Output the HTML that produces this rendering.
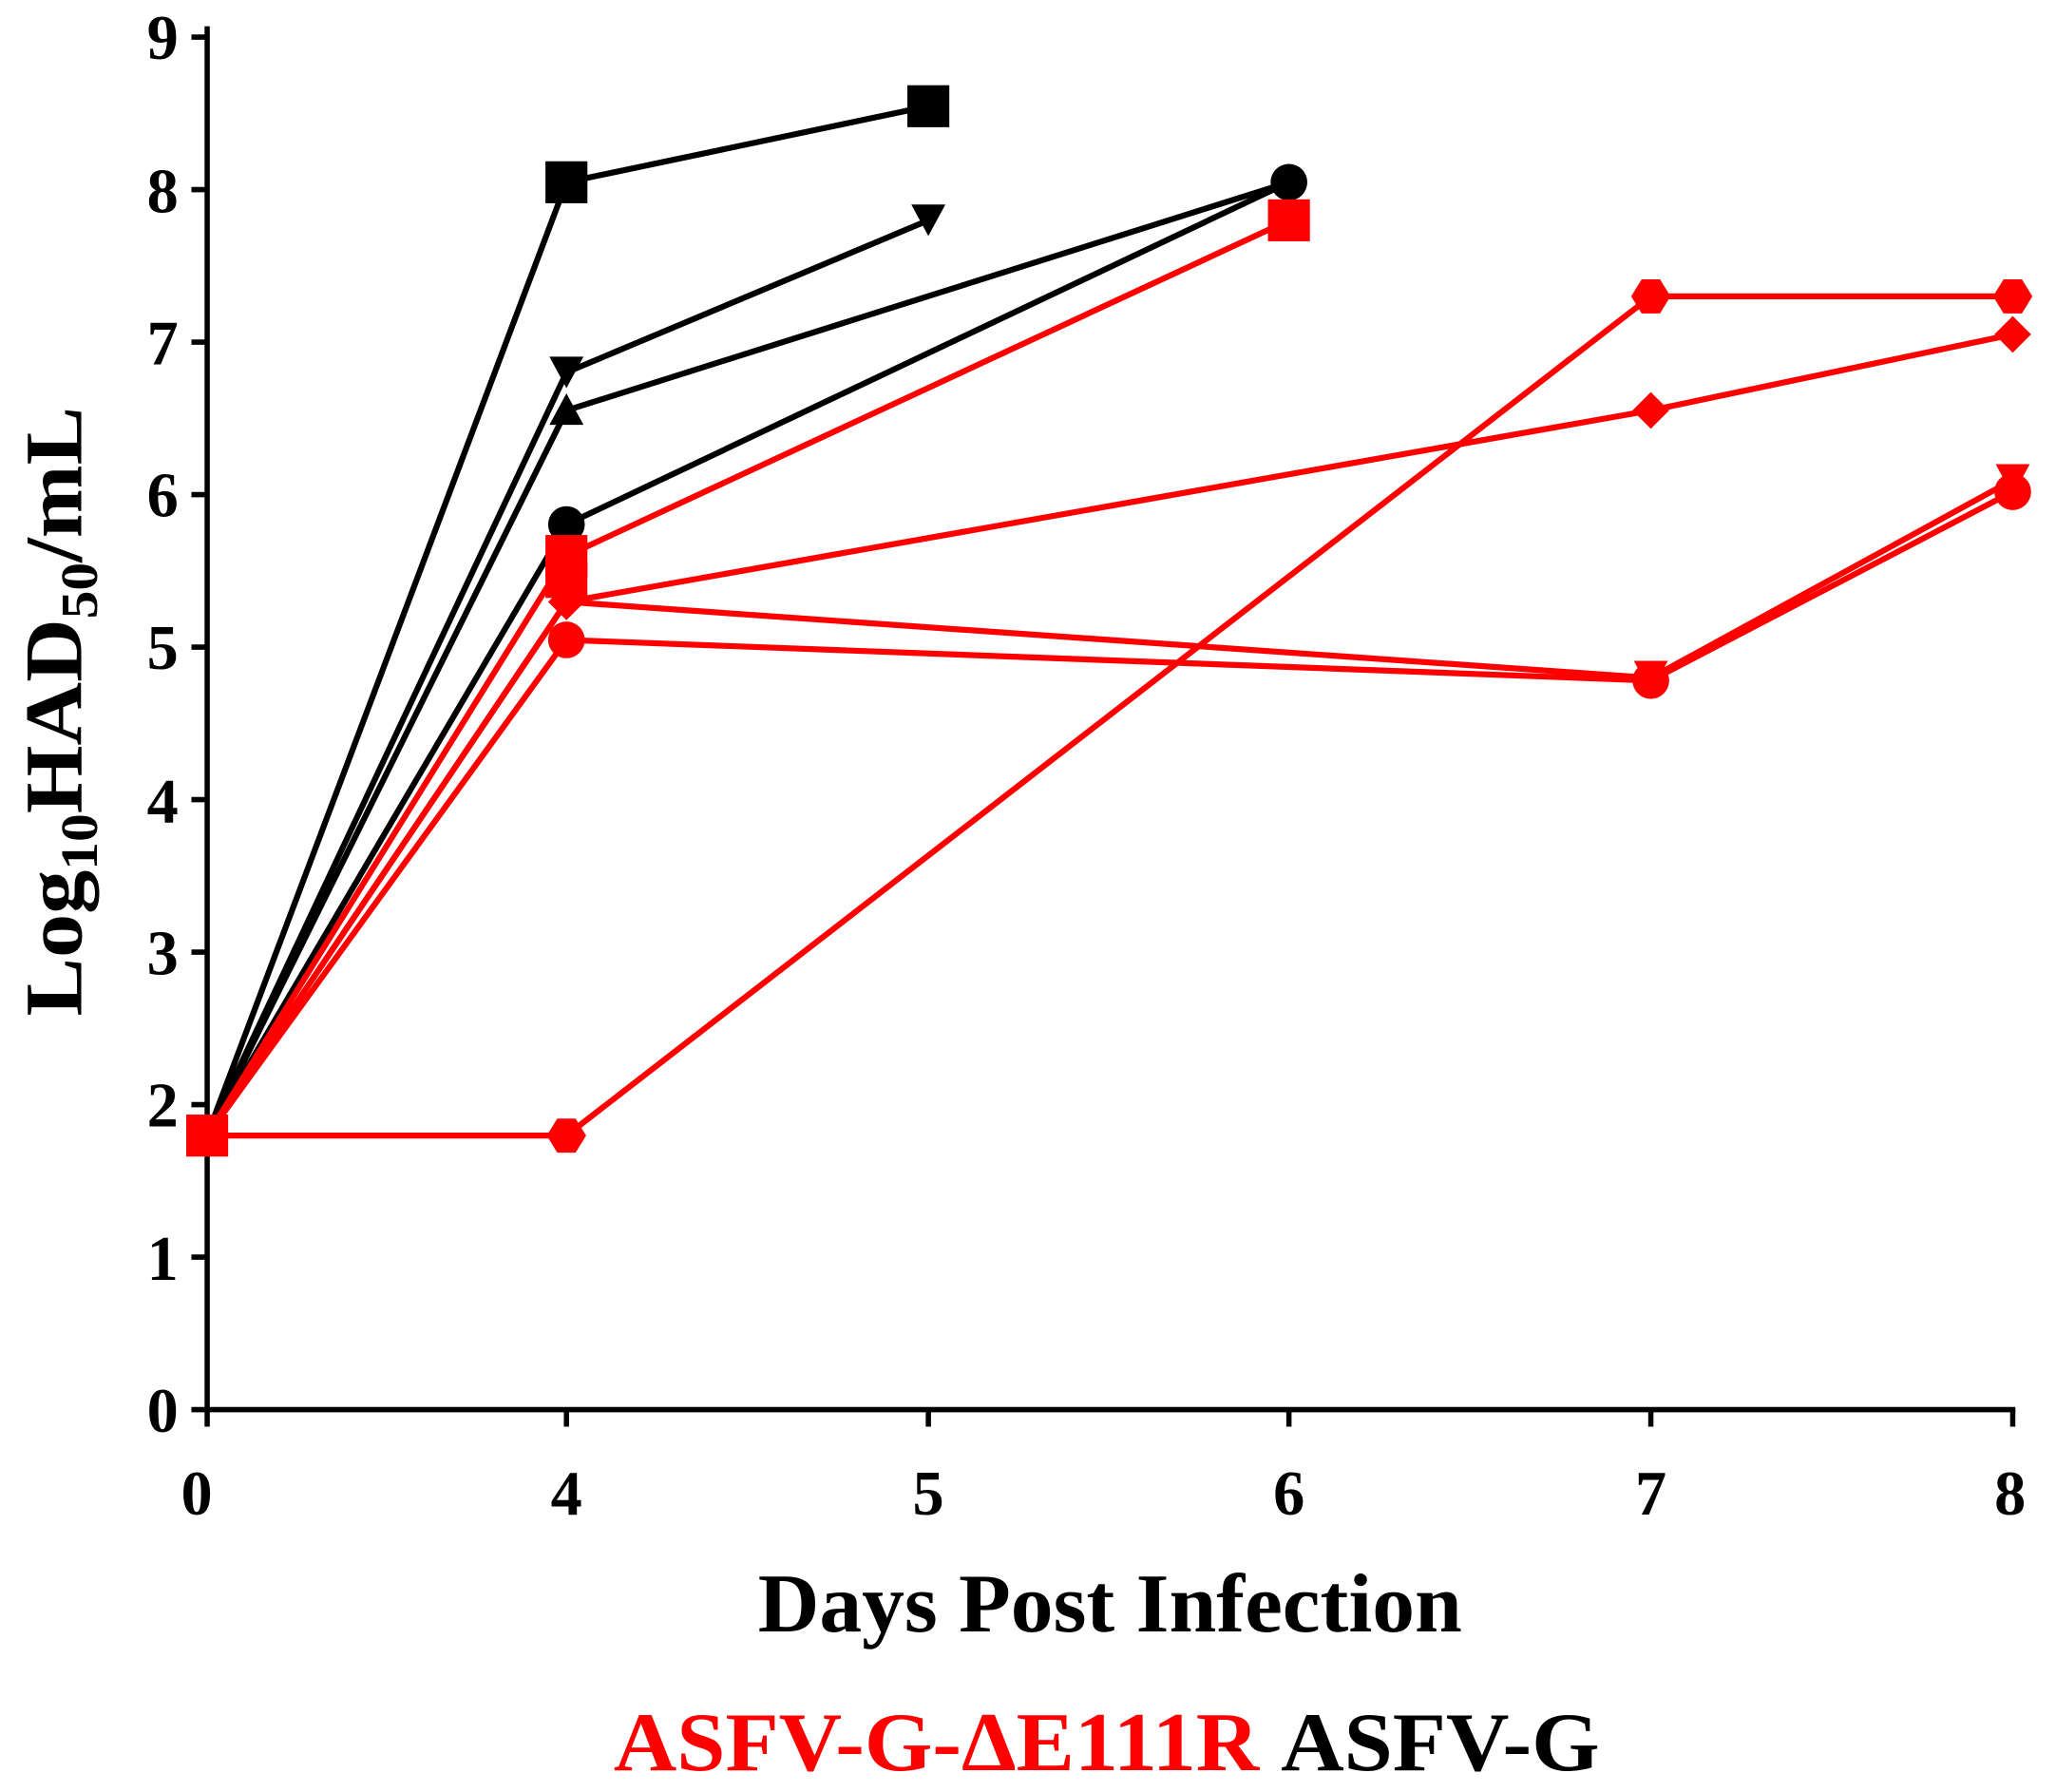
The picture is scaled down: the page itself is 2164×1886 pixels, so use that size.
<!DOCTYPE html>
<html><head><style>html,body{margin:0;padding:0;background:#fff}svg{display:block}</style></head>
<body>
<svg width="2164" height="1886" viewBox="0 0 1568 1366.6" preserveAspectRatio="none" xmlns="http://www.w3.org/2000/svg" font-family="Liberation Serif, serif" font-weight="bold">
<defs>
<path id="tri" d="M0,-14 L13,10 L-13,10Z"/>
<path id="tdn" d="M0,14 L13,-10 L-13,-10Z"/>
<path id="dia" d="M0,-14 L14,0 L0,14 L-14,0Z"/>
<path id="hex" d="M-7,-13 L7,-13 L15,0 L7,13 L-7,13 L-15,0Z"/>
</defs>
<g stroke="#000" stroke-width="4" fill="none">
<line x1="158" y1="20" x2="158" y2="1077"/>
<line x1="156" y1="1075" x2="1537" y2="1075"/>
<g>
<line x1="146" y1="1075" x2="158" y2="1075"/><line x1="146" y1="958.7" x2="158" y2="958.7"/>
<line x1="146" y1="842.4" x2="158" y2="842.4"/><line x1="146" y1="726.1" x2="158" y2="726.1"/>
<line x1="146" y1="609.8" x2="158" y2="609.8"/><line x1="146" y1="493.5" x2="158" y2="493.5"/>
<line x1="146" y1="377.2" x2="158" y2="377.2"/><line x1="146" y1="260.9" x2="158" y2="260.9"/>
<line x1="146" y1="144.6" x2="158" y2="144.6"/><line x1="146" y1="28.3" x2="158" y2="28.3"/>
</g>
<g>
<line x1="158" y1="1075" x2="158" y2="1088"/><line x1="432" y1="1075" x2="432" y2="1088"/>
<line x1="708" y1="1075" x2="708" y2="1088"/><line x1="983" y1="1075" x2="983" y2="1088"/>
<line x1="1259" y1="1075" x2="1259" y2="1088"/><line x1="1535" y1="1075" x2="1535" y2="1088"/>
</g>
</g>
<g font-size="48" text-anchor="end">
<text x="136" y="1092">0</text><text x="136" y="976">1</text><text x="136" y="859">2</text>
<text x="136" y="743">3</text><text x="136" y="627">4</text><text x="136" y="510">5</text>
<text x="136" y="394">6</text><text x="136" y="278">7</text><text x="136" y="162">8</text><text x="136" y="45">9</text>
</g>
<g font-size="48" text-anchor="middle">
<text x="150" y="1155">0</text><text x="432" y="1155">4</text><text x="708" y="1155">5</text>
<text x="983" y="1155">6</text><text x="1259" y="1155">7</text><text x="1533" y="1155">8</text>
</g>
<text x="578" y="1244" font-size="64" textLength="537" lengthAdjust="spacingAndGlyphs">Days Post Infection</text>
<text transform="translate(62,775) rotate(-90)" font-size="62" textLength="465" lengthAdjust="spacingAndGlyphs">Log<tspan font-size="40" dy="12">10</tspan><tspan dy="-12">HAD</tspan><tspan font-size="40" dy="12">50</tspan><tspan dy="-12">/mL</tspan></text>
<text x="468" y="1350" font-size="64" textLength="752" lengthAdjust="spacingAndGlyphs"><tspan fill="#f00">ASFV-G-ΔE111R</tspan> <tspan fill="#000">ASFV-G</tspan></text>

<g fill="none" stroke-width="4.5" stroke-linejoin="round">
<g stroke="#000">
<polyline points="158,866 432,139 708,81"/>
<polyline points="158,866 432,284 708,168"/>
<polyline points="158,866 432,313 983,139"/>
<polyline points="158,866 432,400 983,139"/>
</g>
<g stroke="#f00">
<polyline points="158,866 432,424 983,168"/>
<polyline points="158,866 432,866 1259,226 1535,226"/>
<polyline points="158,866 432,459 1259,313 1535,255"/>
<polyline points="158,866 432,459 1259,517 1535,366"/>
<polyline points="158,866 432,488 1259,519 1535,375"/>
</g>
</g>
<g fill="#000">
<rect x="416" y="123" width="32" height="32"/><rect x="692" y="65" width="32" height="32"/>
<use href="#tdn" x="432" y="282"/><use href="#tdn" x="708" y="166"/>
<use href="#tri" x="432" y="314"/>
<circle cx="432" cy="400" r="14"/><circle cx="983" cy="139" r="14"/>
</g>
<g fill="#f00">
<rect x="142" y="850" width="32" height="32"/>
<rect x="416" y="408" width="32" height="32"/><rect x="416" y="428" width="32" height="28"/><rect x="967" y="152" width="32" height="32"/>
<use href="#hex" x="432" y="866"/><use href="#hex" x="1259" y="226"/><use href="#hex" x="1535" y="226"/>
<use href="#dia" x="432" y="459"/><use href="#dia" x="1259" y="313"/><use href="#dia" x="1535" y="255"/>
<use href="#tdn" x="432" y="459"/><use href="#tdn" x="1259" y="514"/><use href="#tdn" x="1535" y="364"/>
<circle cx="432" cy="488" r="14"/><circle cx="1259" cy="519" r="14"/><circle cx="1535" cy="375" r="14"/>
</g>
</svg>
</body></html>
